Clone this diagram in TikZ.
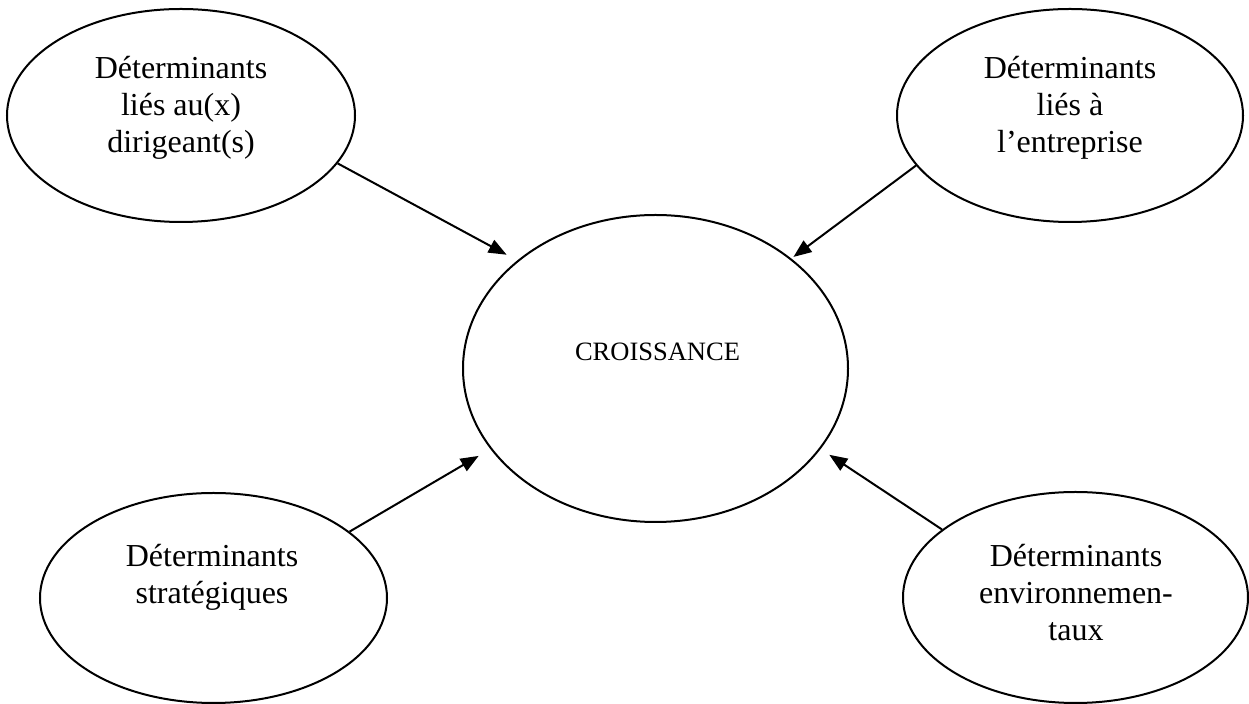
\documentclass[tikz,border=0pt]{standalone}
\usepackage{fontspec}
\setmainfont{Liberation Serif}
\usetikzlibrary{shapes.geometric,arrows.meta}
\tikzset{
  ell/.style={draw, ellipse, line width=1pt, inner sep=0pt},
  txt/.style={font=\fontsize{16}{18.35}\selectfont, align=center, inner sep=0pt},
  ctxt/.style={font=\fontsize{13.25}{15}\selectfont, inner sep=0pt},
  arr/.style={line width=1pt, -{Triangle[length=9pt,width=7pt]}}
}
\begin{document}
\begin{tikzpicture}[x=0.5pt,y=-0.5pt]
\fill[white] (0,0) rectangle (1249,704);
\useasboundingbox (0,0) rectangle (1249,704);
% ellipses
\node[ell, minimum width=174pt, minimum height=106.5pt] (tl) at (181,115.5) {};
\node[ell, minimum width=173pt, minimum height=106.5pt] (tr) at (1070,115.5) {};
\node[ell, minimum width=192.5pt, minimum height=153.5pt] (c) at (655.5,368.5) {};
\node[ell, minimum width=173.5pt, minimum height=105pt] (bl) at (213.5,598) {};
\node[ell, minimum width=172.5pt, minimum height=105.5pt] (br) at (1075.5,597.5) {};
% texts
\node[txt, anchor=north] (tlt) at (181,56) {Déterminants\\liés au(x)\\dirigeant(s)};
\node[txt, anchor=north] (trt) at (1070,56) {Déterminants\\liés à\\l’entreprise};
\node[txt, anchor=north] (blt) at (212,544) {Déterminants\\stratégiques};
\node[txt, anchor=north] (brt) at (1076,544) {Déterminants\\environnemen-\\taux};
\node[ctxt, anchor=base] (ct) at (657.5,361) {CROISSANCE};
% arrows
\draw[arr, shorten >=6pt] (tl.-17.1) -- (c.142.9);
\draw[arr, shorten >=1.3pt] (tr.-162.6) -- (c.39.3);
\draw[arr, shorten >=6.8pt] (bl.26.5) -- (c.206.3);
\draw[arr, shorten >=5.2pt] (br.153.7) -- (c.-26.2);
\end{tikzpicture}
\end{document}
